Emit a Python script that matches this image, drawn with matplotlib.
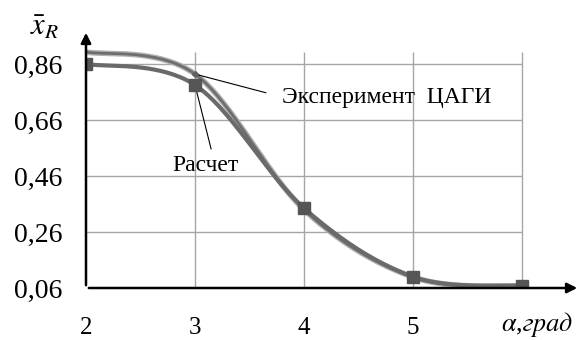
import numpy as np
import matplotlib
matplotlib.use("Agg")
import matplotlib.pyplot as plt

plt.rcParams['font.family'] = ['Liberation Serif', 'DejaVu Serif']
plt.rcParams['mathtext.fontset'] = 'stix'

alpha = [2, 3, 4, 5, 6]
experiment = [0.903, 0.824, 0.340, 0.099, 0.065]
calc = [0.860, 0.785, 0.345, 0.100, 0.068]
yticks = [0.06, 0.26, 0.46, 0.66, 0.86]
ytick_labels = ["0,06", "0,26", "0,46", "0,66", "0,86"]
xticks = [2, 3, 4, 5]
xtick_labels = ["2", "3", "4", "5"]


def smooth(x, y, n=40):
    x = np.asarray(x, float); y = np.asarray(y, float)
    P = np.column_stack([x, y])
    Pe = np.vstack([P[0], P, P[-1]])
    out = []
    t = np.linspace(0, 1, n)[:, None]
    for i in range(1, len(Pe) - 2):
        p0, p1, p2, p3 = Pe[i - 1], Pe[i], Pe[i + 1], Pe[i + 2]
        c1 = p1 + (p2 - p0) / 6
        c2 = p2 - (p3 - p1) / 6
        seg = ((1 - t) ** 3) * p1 + 3 * ((1 - t) ** 2) * t * c1 + 3 * (1 - t) * t ** 2 * c2 + t ** 3 * p2
        out.append(seg if i == 1 else seg[1:])
    out = np.vstack(out)
    return out[:, 0], out[:, 1]


fig = plt.figure(figsize=(5.83, 3.40), dpi=100)
ax = fig.add_axes([86 / 583, 52 / 340, 497 / 583, 260 / 340])
ax.set_xlim(2, 2 + 497 / 109)
ax.set_ylim(0.06, 0.06 + 260 * 0.2 / 56)
for s in ax.spines.values():
    s.set_visible(False)

gc = '#a6a6a6'
ax.hlines(yticks[1:], 2, 6, color=gc, lw=1.0, zorder=1)
ax.vlines([3, 4, 5, 6], 0.06, 0.903, color=gc, lw=1.0, zorder=1)

# axes with arrows
ax.annotate('', xy=(2 + 494 / 109, 0.06), xytext=(2, 0.06),
            arrowprops=dict(arrowstyle='-|>', color='black', lw=1.8, mutation_scale=15), zorder=5)
ax.annotate('', xy=(2, 0.06 + 258 * 0.2 / 56), xytext=(2, 0.06),
            arrowprops=dict(arrowstyle='-|>', color='black', lw=1.8, mutation_scale=15), zorder=5)

xs, ys = smooth(alpha, experiment)
ax.plot(xs, ys, color='#b0b0b0', lw=4.0, zorder=3, solid_capstyle='butt')
ax.plot(xs, ys, color='#6e6e6e', lw=2.0, zorder=3)
ax.plot([3], [experiment[1]], marker='D', ms=3, color='#606060', zorder=4)

xc, yc = smooth(alpha, calc)
ax.plot(xc, yc, color='#6a6a6a', lw=3.0, zorder=3)
ax.plot(alpha, calc, ls='none', marker='s', ms=8, color='#555555', zorder=4)

ax.set_yticks(yticks)
ax.set_yticklabels(ytick_labels, fontsize=20)
ax.set_xticks(xticks)
ax.set_xticklabels(xtick_labels, fontsize=18)
ax.tick_params(axis='y', length=0, pad=17)
ax.tick_params(axis='x', length=0, pad=21)

ax.text(6.14, -0.07, r'$\alpha$,$\mathit{град}$', fontsize=19, ha='center', va='center',
        clip_on=False)
fig.text(45 / 583, 1 - 27 / 340, r'$\bar{x}_R$', fontsize=22, ha='center', va='center')

ax.annotate('Эксперимент  ЦАГИ', xy=(3, experiment[1]), xytext=(4.76, 0.742),
            fontsize=17, ha='center', va='center',
            arrowprops=dict(arrowstyle='-', color='black', lw=0.8,
                            shrinkA=10, shrinkB=0, relpos=(0, 0.5)))
ax.annotate('Расчет', xy=(3, calc[1]), xytext=(3.10, 0.499),
            fontsize=17, ha='center', va='center',
            arrowprops=dict(arrowstyle='-', color='black', lw=0.8,
                            shrinkA=2, shrinkB=0, relpos=(0.6, 1.0)))

fig.savefig('out.png', dpi=100)
